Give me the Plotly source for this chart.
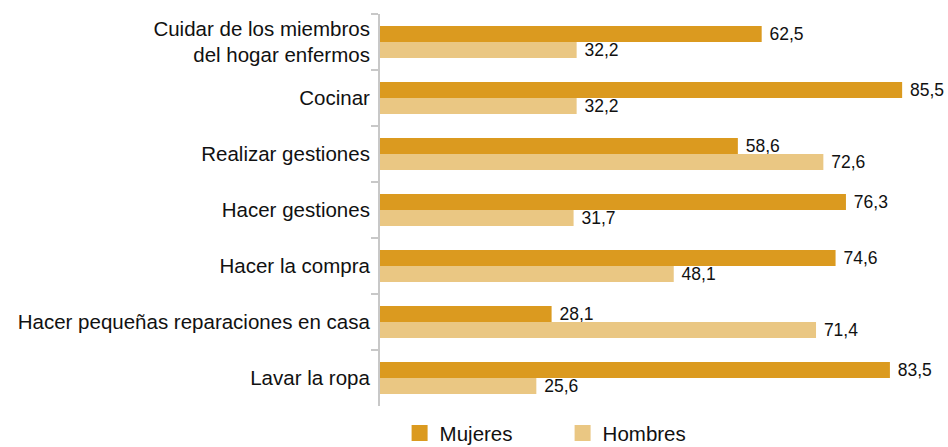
import plotly.graph_objects as go

# Tareas del hogar: porcentaje de mujeres y hombres que las realizan
categorias = [
    "Cuidar de los miembros<br>del hogar enfermos",
    "Cocinar",
    "Realizar gestiones",
    "Hacer gestiones",
    "Hacer la compra",
    "Hacer pequeñas reparaciones en casa",
    "Lavar la ropa",
]
mujeres = [62.5, 85.5, 58.6, 76.3, 74.6, 28.1, 83.5]
hombres = [32.2, 32.2, 72.6, 31.7, 48.1, 71.4, 25.6]

series = [("Mujeres", mujeres, "#DB9A1F"), ("Hombres", hombres, "#EAC783")]

FONT = "Liberation Sans, Arial, Helvetica, sans-serif"

fig = go.Figure()
for nombre, valores, color in series:
    fig.add_trace(go.Bar(
        name=nombre,
        y=categorias,
        x=valores,
        orientation="h",
        marker=dict(color=color, line=dict(width=0)),
        texttemplate=" %{x:.1f}",
        textposition="outside",
        constraintext="none",
        textfont=dict(size=17.5, color="#111111", family=FONT),
        cliponaxis=False,
        showlegend=False,
    ))
    # Entrada de leyenda con cuadrado grande
    fig.add_trace(go.Scatter(
        name=nombre,
        x=[None], y=[None],
        mode="markers",
        marker=dict(symbol="square", size=17, color=color),
        showlegend=True,
    ))

fig.update_layout(
    width=948,
    height=447,
    margin=dict(l=380, r=8, t=14, b=41, autoexpand=False),
    paper_bgcolor="white",
    plot_bgcolor="white",
    separators=",.",
    barmode="group",
    bargap=0.43,
    bargroupgap=0,
    font=dict(family=FONT, size=20.5, color="#111111"),
    legend=dict(
        orientation="h",
        x=0.035,
        xanchor="left",
        y=-0.018,
        yanchor="top",
        entrywidth=118,
        font=dict(size=20.5, color="#111111", family=FONT),
        itemsizing="trace",
    ),
    xaxis=dict(
        range=[0, 91.7],
        visible=False,
        showgrid=False,
        zeroline=False,
    ),
    yaxis=dict(
        autorange="reversed",
        showline=True,
        linecolor="#C8C8C8",
        linewidth=2,
        ticks="outside",
        tickson="boundaries",
        ticklen=7,
        tickwidth=2,
        tickcolor="#C8C8C8",
        ticklabelstandoff=4,
        showgrid=False,
        zeroline=False,
        tickfont=dict(size=20.5, color="#111111", family=FONT),
    ),
)

fig.write_html("out.html")
